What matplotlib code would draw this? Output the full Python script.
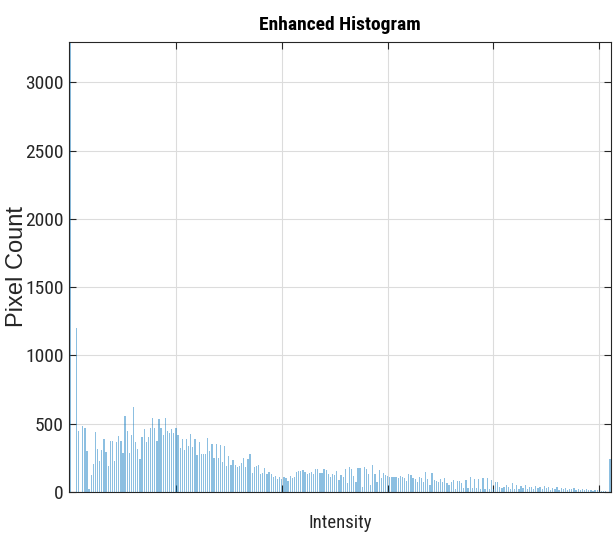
import matplotlib
matplotlib.use('Agg')
import matplotlib.pyplot as plt
import numpy as np

# intensity bins 0..255 of the enhanced image
intensity = np.arange(256)

# pixel count per bin
counts_0_63 = [3295, 0, 0, 1200, 446, 0, 483, 468, 302, 20, 125, 205, 440, 315, 230, 307,
               390, 293, 193, 375, 375, 230, 366, 410, 375, 285, 556, 446, 285, 420, 622, 366,
               315, 241, 400, 461, 366, 405, 468, 544, 468, 375, 534, 468, 417, 541, 446, 434,
               461, 434, 468, 417, 322, 388, 307, 388, 339, 422, 332, 388, 271, 364, 276, 276]
counts_64_127 = [276, 398, 300, 349, 251, 349, 246, 344, 222, 339, 193, 266, 198, 234, 198, 185,
                 193, 210, 246, 185, 239, 278, 137, 185, 190, 198, 132, 141, 173, 132, 149, 132,
                 107, 117, 93, 107, 93, 107, 100, 83, 117, 100, 107, 149, 156, 156, 161, 149,
                 132, 141, 149, 132, 168, 168, 141, 141, 168, 161, 132, 107, 132, 124, 156, 88]
counts_128_191 = [124, 107, 166, 63, 185, 166, 117, 76, 173, 173, 34, 185, 166, 132, 51, 198,
                  132, 76, 161, 100, 141, 124, 117, 112, 112, 112, 107, 100, 117, 112, 100, 83,
                  132, 124, 100, 93, 76, 112, 100, 76, 149, 93, 51, 141, 88, 83, 76, 93,
                  76, 100, 63, 51, 76, 88, 20, 83, 83, 63, 27, 88, 27, 107, 27, 93]
counts_192_255 = [27, 93, 20, 100, 20, 100, 20, 88, 20, 76, 76, 39, 27, 34, 51, 34,
                  20, 63, 20, 51, 20, 45, 30, 48, 25, 40, 35, 22, 45, 30, 38, 20,
                  42, 28, 35, 18, 32, 25, 38, 15, 30, 22, 28, 15, 25, 20, 30, 12,
                  22, 18, 25, 12, 20, 15, 18, 10, 15, 12, 10, 8, 6, 5, 0, 240]
counts = np.array(counts_0_63 + counts_64_127 + counts_128_191 + counts_192_255)

yticks = [0, 500, 1000, 1500, 2000, 2500, 3000]
xticks = [50, 100, 150, 200, 250]

narrow = ['Roboto Condensed', 'Liberation Sans', 'DejaVu Sans']

fig = plt.figure(figsize=(6.14, 5.42), dpi=100)
ax = fig.add_axes([0.1124, 0.0923, 0.8827, 0.8302])

ax.bar(intensity, counts, width=0.6, color='#0072BD', alpha=0.45, linewidth=0, zorder=2)

ax.set_xlim(-0.5, 255.5)
ax.set_ylim(0, counts.max())
ax.set_xticks(xticks)
ax.set_xticklabels([])
ax.set_yticks(yticks)
ax.set_yticklabels([str(t) for t in yticks], family=narrow, fontsize=14, color='#262626')

ax.grid(True, color='#dcdcdc', linewidth=0.8, zorder=0)
ax.set_axisbelow(True)
ax.tick_params(direction='in', length=5, pad=4, top=True, right=True, color='#262626', width=0.8)
for s in ax.spines.values():
    s.set_color('#262626')
    s.set_linewidth(0.8)

ax.set_title('Enhanced Histogram', family=narrow, fontsize=14, fontweight='bold', pad=9)
ax.set_xlabel('Intensity', family=narrow, fontsize=13.5, labelpad=12, color='#262626')
ax.set_ylabel('Pixel Count', family=['Liberation Sans', 'DejaVu Sans'], fontsize=17,
              color='#262626')
ax.yaxis.set_label_coords(-0.076, 0.5)

fig.savefig('out.png', dpi=100)
